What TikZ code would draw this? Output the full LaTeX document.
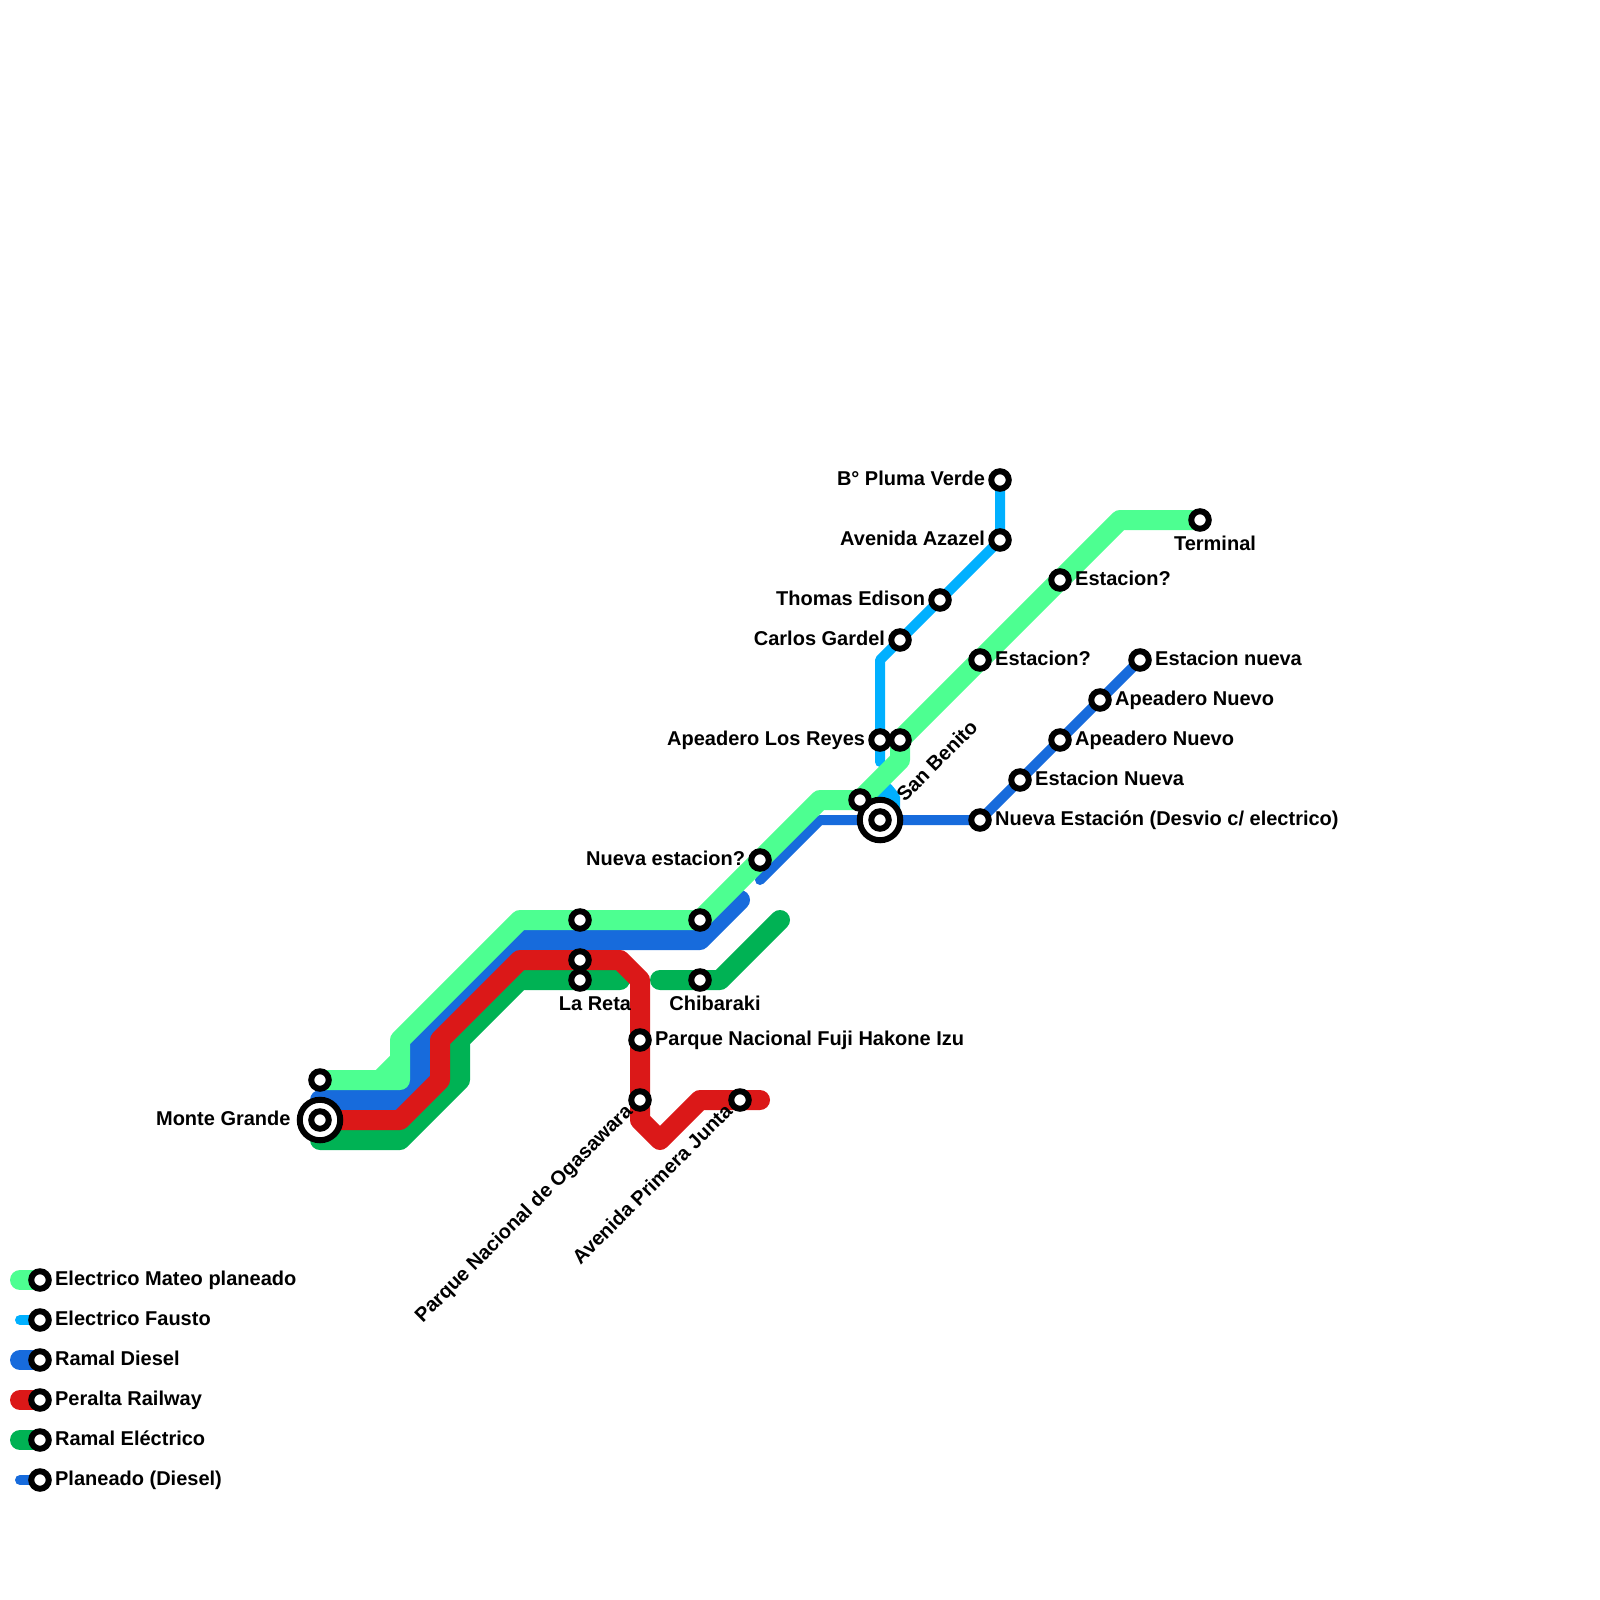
\documentclass[tikz,border=0pt]{standalone}
\usepackage{fontspec}
\setmainfont{Liberation Sans}
\usetikzlibrary{positioning, backgrounds}

\definecolor{mateocol}{HTML}{4DFF91}
\definecolor{faustocol}{HTML}{00B0FF}
\definecolor{dieselcol}{HTML}{176BDC}
\definecolor{peraltacol}{HTML}{DB1818}
\definecolor{electricocol}{HTML}{00B254}

\begin{document}
\begin{tikzpicture}[
    x=1pt, y=-1pt,
    stop/.style={circle, draw=black, fill=white, line width=6pt, minimum size=17.5pt, inner sep=0pt},
    bigstop/.style={circle, draw=black, fill=white, line width=6pt, minimum size=40.5pt, inner sep=0pt},
    lbl/.style={font=\fontsize{20}{20}\bfseries, inner sep=0pt, text=black, text height=14.5pt, text depth=4.5pt},
    thickline/.style={line width=20pt, line cap=round, line join=round},
    thinline/.style={line width=10pt, line cap=round, line join=round}
]
\useasboundingbox (0,0) rectangle (1600,1600);

% Interchanges
\node[bigstop] (monteBig) at (320,1120) {};
\node[bigstop] (benitoBig) at (880,820) {};

% Stations on the light green line
\node[stop] (m1) at (320,1080) {};
\node[stop] (m2) at (580,920) {};
\node[stop] (m3) at (700,920) {};
\node[stop] (m4) at (760,860) {};
\node[stop] (m5) at (860,800) {};
\node[stop] (m6) at (900,740) {};
\node[stop] (m7) at (980,660) {};
\node[stop] (m8) at (1060,580) {};
\node[stop] (m9) at (1200,520) {};

% Stations on the Fausto line
\node[stop] (f1) at (1000,480) {};
\node[stop] (f2) at (1000,540) {};
\node[stop] (f3) at (940,600) {};
\node[stop] (f4) at (900,640) {};
\node[stop] (f5) at (880,740) {};

% Stations on the red and dark green lines
\node[stop] (monte) at (320,1120) {};
\node[stop] (benito) at (880,820) {};
\node[stop] (r1) at (580,960) {};
\node[stop] (r2) at (640,1040) {};
\node[stop] (r3) at (640,1100) {};
\node[stop] (r4) at (740,1100) {};
\node[stop] (e1) at (580,980) {};
\node[stop] (e2) at (700,980) {};

% Stations on the planned diesel line
\node[stop] (p1) at (980,820) {};
\node[stop] (p2) at (1020,780) {};
\node[stop] (p3) at (1060,740) {};
\node[stop] (p4) at (1100,700) {};
\node[stop] (p5) at (1140,660) {};

% Station labels
\node[lbl, left=6pt of monteBig] (lmonte) {Monte Grande};
\node[lbl, left=3pt of m4] (lm4) {Nueva estacion?};
\node[lbl, right=3.2pt of m7] (lm7) {Estacion?};
\node[lbl, right=3.2pt of m8] (lm8) {Estacion?};
\node[lbl, below=4pt of m9, xshift=15pt] (lm9) {Terminal};
\node[lbl, left=3pt of f1] (lf1) {B° Pluma Verde};
\node[lbl, left=3pt of f2] (lf2) {Avenida Azazel};
\node[lbl, left=3pt of f3] (lf3) {Thomas Edison};
\node[lbl, left=3pt of f4] (lf4) {Carlos Gardel};
\node[lbl, left=3pt of f5] (lf5) {Apeadero Los Reyes};
\node[lbl, right=3.2pt of p1] (lp1) {Nueva Estación (Desvio c/ electrico)};
\node[lbl, right=3.2pt of p2] (lp2) {Estacion Nueva};
\node[lbl, right=3.2pt of p3] (lp3) {Apeadero Nuevo};
\node[lbl, right=3.2pt of p4] (lp4) {Apeadero Nuevo};
\node[lbl, right=3.2pt of p5] (lp5) {Estacion nueva};
\node[lbl, right=3.2pt of r2] (lr2) {Parque Nacional Fuji Hakone Izu};
\node[lbl, below=4pt of e1, xshift=15pt] (le1) {La Reta};
\node[lbl, below=4pt of e2, xshift=15pt] (le2) {Chibaraki};
\node[lbl, rotate=45, anchor=south west] (lbenito) at (908,806) {San Benito};
\node[lbl, rotate=45, anchor=east] (lr3) at (630,1109) {Parque Nacional de Ogasawara};
\node[lbl, rotate=45, anchor=east] (lr4) at (730,1109) {Avenida Primera Junta};

% Legend
\foreach \name/\ypos/\txt in {legA/1280/Electrico Mateo planeado, legB/1320/Electrico Fausto, legC/1360/Ramal Diesel, legD/1400/Peralta Railway, legE/1440/Ramal Eléctrico, legF/1480/Planeado (Diesel)} {
    \node[stop] (\name) at (40,\ypos) {};
    \node[lbl, right=3.2pt of \name] (\name txt) {\txt};
    \coordinate (\name end) at (20,\ypos);
}

% Bends
\coordinate (a1) at (380,1080);
\coordinate (a2) at (400,1060);
\coordinate (a8) at (400,1080);
\coordinate (a3) at (400,1040);
\coordinate (a4) at (520,920);
\coordinate (a5) at (820,800);
\coordinate (a6) at (900,760);
\coordinate (a7) at (1120,520);
\coordinate (b1) at (880,660);
\coordinate (b2) at (880,762);
\coordinate (c1) at (320,1100);
\coordinate (c2) at (400,1100);
\coordinate (c3) at (420,1080);
\coordinate (c4) at (420,1040);
\coordinate (c5) at (520,940);
\coordinate (c6) at (700,940);
\coordinate (c7) at (740,900);
\coordinate (d1) at (400,1120);
\coordinate (d2) at (440,1080);
\coordinate (d3) at (440,1040);
\coordinate (d4) at (520,960);
\coordinate (d5) at (620,960);
\coordinate (d6) at (640,980);
\coordinate (d7) at (640,1120);
\coordinate (d8) at (660,1140);
\coordinate (d9) at (700,1100);
\coordinate (d10) at (760,1100);
\coordinate (e3) at (320,1140);
\coordinate (e4) at (400,1140);
\coordinate (e5) at (460,1080);
\coordinate (e6) at (460,1040);
\coordinate (e7) at (520,980);
\coordinate (e8) at (620,980);
\coordinate (e9) at (660,980);
\coordinate (e10) at (720,980);
\coordinate (e11) at (780,920);
\coordinate (g1) at (760,880);
\coordinate (g2) at (820,820);

% Lines, behind the stations
\begin{scope}[on background layer]
\draw[thinline, dieselcol] (g1) -- (g2) -- (p1.center) -- (p5.center);
\draw[thinline, dieselcol] (legFend) -- (legF.center);
\draw[thickline, dieselcol] (c1) -- (c2) -- (c3) -- (c4) -- (c5) -- (c6) -- (c7);
\draw[thickline, dieselcol] (legCend) -- (legC.center);
\draw[thickline, electricocol] (e3) -- (e4) -- (e5) -- (e6) -- (e7) -- (e8);
\draw[thickline, electricocol] (e9) -- (e10) -- (e11);
\draw[thickline, electricocol] (legEend) -- (legE.center);
\draw[thickline, peraltacol] (monte.center) -- (d1) -- (d2) -- (d3) -- (d4) -- (d5) -- (d6) -- (d7) -- (d8) -- (d9) -- (d10);
\draw[thickline, peraltacol] (legDend) -- (legD.center);
\draw[thinline, faustocol] (f1.center) -- (f2.center) -- (b1) -- (b2);
\fill[faustocol, rounded corners=2pt] (875,795) -- (890,783) -- (900,795) -- (900,815) -- (880,815) -- cycle;
\draw[thinline, faustocol] (legBend) -- (legB.center);
\draw[thickline, mateocol] (m1.center) -- (a8) -- (a3) -- (a4) -- (m3.center) -- (a5) -- (m5.center) -- (a6) -- (m6.center) -- (a7) -- (m9.center) (a1) -- (a2);
\draw[thickline, mateocol] (legAend) -- (legA.center);
\end{scope}
\end{tikzpicture}
\end{document}
